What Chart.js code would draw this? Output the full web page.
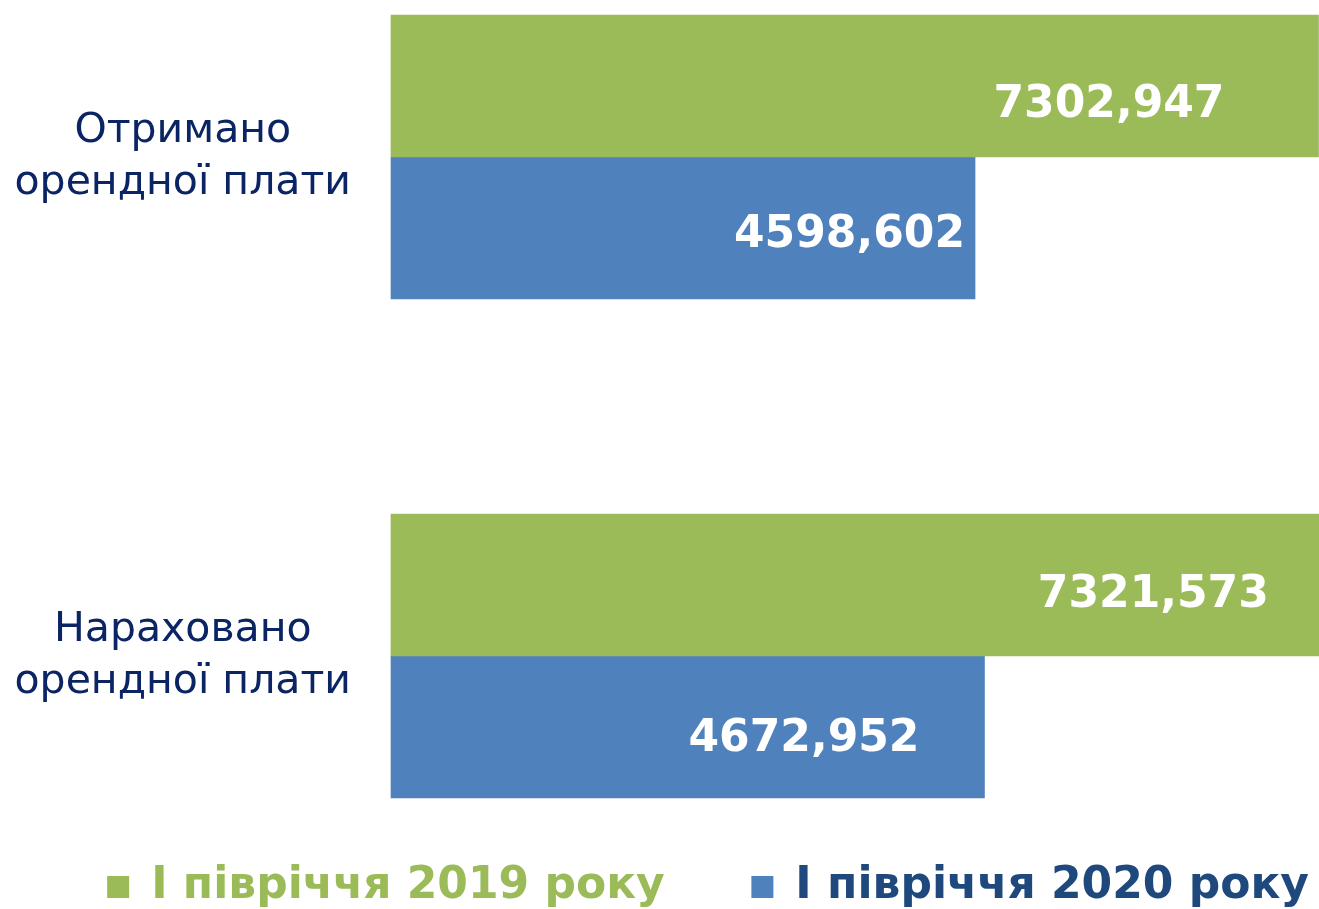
<!DOCTYPE html>
<html>
<head>
<meta charset="utf-8">
<script src="https://cdn.jsdelivr.net/npm/chart.js@4.4.1/dist/chart.umd.min.js"></script>
<style>
html, body { margin: 0; padding: 0; background: #fff; }
#wrap { width: 1319px; height: 909px; }
</style>
</head>
<body>
<div id="wrap"><canvas id="rentChart"></canvas></div>
<script>
const categories = [['Отримано', 'орендної плати'], ['Нараховано', 'орендної плати']];
const seriesNames = ['І півріччя 2019 року', 'І півріччя 2020 року'];
const values2019 = [7302.947, 7321.573];
const values2020 = [4598.602, 4672.952];

const green = '#9bbb59';
const blue = '#4f81bd';
const navy = '#0b2463';
const legendColors = [green, '#1f497d'];

// label placement inside bars (px from bar end / from bar centre to baseline)
const labelInset = [[94, 52], [10, 65]];
const labelShift = [[31, 22], [19, 24]];

const valueLabels = {
    id: 'valueLabels',
    afterDatasetsDraw(chart) {
        const ctx = chart.ctx;
        ctx.save();
        ctx.font = 'bold 44px "DejaVu Sans"';
        ctx.fillStyle = '#ffffff';
        ctx.textAlign = 'right';
        ctx.textBaseline = 'alphabetic';
        chart.data.datasets.forEach((ds, d) => {
            chart.getDatasetMeta(d).data.forEach((bar, i) => {
                const txt = ds.data[i].toFixed(3).replace('.', ',');
                ctx.fillText(txt, bar.x - labelInset[d][i], bar.y + labelShift[d][i]);
            });
        });
        ctx.restore();
    }
};

const ctx = document.getElementById('rentChart').getContext('2d');
new Chart(ctx, {
    type: 'bar',
    data: {
        labels: categories,
        datasets: [
            { label: seriesNames[0], data: values2019, backgroundColor: green, borderWidth: 0, barThickness: 142, clip: false },
            { label: seriesNames[1], data: values2020, backgroundColor: blue, borderWidth: 0, barThickness: 142, clip: false }
        ]
    },
    options: {
        indexAxis: 'y',
        responsive: true,
        maintainAspectRatio: false,
        animation: false,
        layout: { padding: { top: 157, left: 0, right: 0, bottom: -10 } },
        scales: {
            x: {
                min: 0,
                max: 7307,
                ticks: { display: false },
                grid: { display: false, drawTicks: false },
                border: { display: false },
                afterFit: s => { s.height = 199; }
            },
            y: {
                offset: false,
                ticks: {
                    color: navy,
                    padding: 40,
                    crossAlign: 'center',
                    font: { family: '"DejaVu Sans"', size: 41, lineHeight: 1.27 }
                },
                grid: { display: false, drawTicks: false },
                border: { display: false },
                afterFit: s => { s.width = 391; }
            }
        },
        plugins: {
            tooltip: { enabled: false },
            legend: {
                position: 'bottom',
                align: 'end',
                labels: {
                    boxWidth: 22,
                    boxHeight: 22,
                    padding: 10,
                    font: { family: '"DejaVu Sans"', size: 44, weight: 'bold' },
                    generateLabels: chart => {
                        const items = Chart.defaults.plugins.legend.labels.generateLabels(chart);
                        items.forEach((it, i) => {
                            it.fontColor = legendColors[i];
                            it.lineWidth = 0;
                            if (i === 0) it.text = it.text + '     ';
                        });
                        return items;
                    }
                }
            }
        }
    },
    plugins: [valueLabels]
});
</script>
</body>
</html>
